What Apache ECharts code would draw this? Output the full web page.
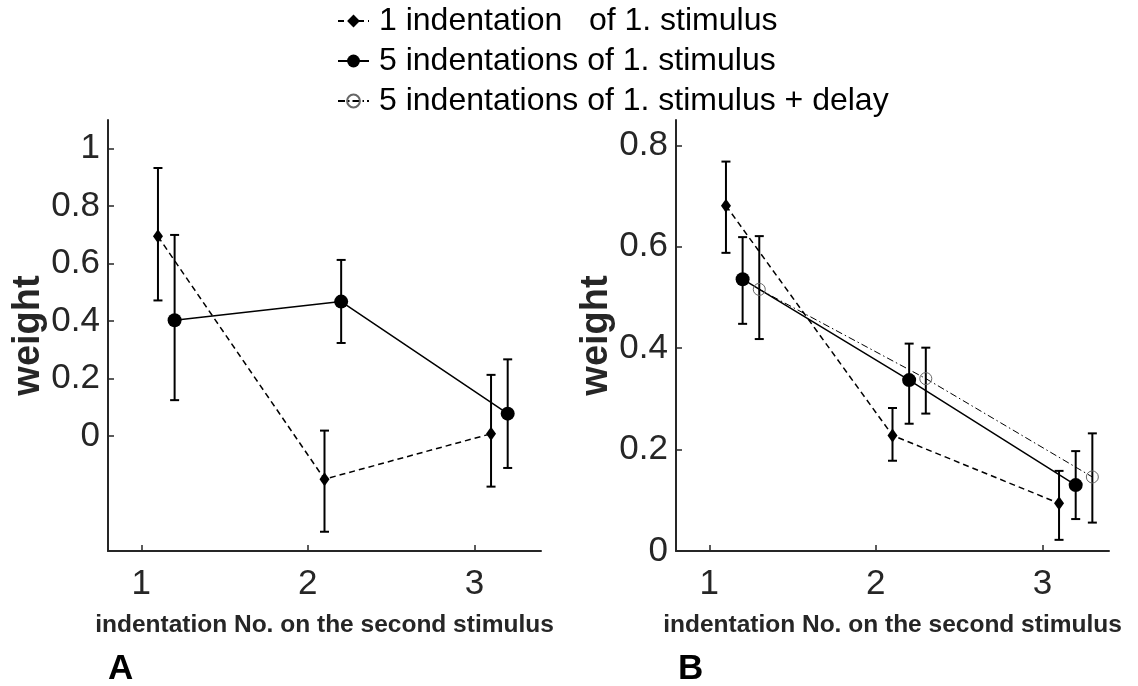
<!DOCTYPE html>
<html>
<head>
<meta charset="utf-8">
<script src="https://cdn.jsdelivr.net/npm/echarts@6/dist/echarts.min.js"></script>
<style>
html,body{margin:0;padding:0;background:#fff;}
#chart{width:1138px;height:686px;}
</style>
</head>
<body>
<div id="chart"></div>
<script>
// ---- data ----
const seriesNames = ['1 indentation   of 1. stimulus', '5 indentations of 1. stimulus', '5 indentations of 1. stimulus + delay'];
const xTicks = [1, 2, 3];
const yTicksA = [0, 0.2, 0.4, 0.6, 0.8, 1];
const yTicksB = [0, 0.2, 0.4, 0.6, 0.8];

const xOne = [1.1, 2.1, 3.1];
const xFive = [1.2, 2.2, 3.2];
const xDelay = [1.3, 2.3, 3.3];

// Panel A
const aOneMean = [0.695, -0.150, 0.008];
const aOneLow = [0.472, -0.333, -0.176];
const aOneHigh = [0.933, 0.019, 0.213];
const aFiveMean = [0.403, 0.468, 0.078];
const aFiveLow = [0.125, 0.324, -0.111];
const aFiveHigh = [0.700, 0.613, 0.267];

// Panel B
const bOneMean = [0.681, 0.228, 0.094];
const bOneLow = [0.588, 0.178, 0.022];
const bOneHigh = [0.768, 0.282, 0.158];
const bFiveMean = [0.536, 0.337, 0.130];
const bFiveLow = [0.448, 0.251, 0.063];
const bFiveHigh = [0.619, 0.409, 0.197];
const bDelayMean = [0.516, 0.340, 0.146];
const bDelayLow = [0.418, 0.271, 0.056];
const bDelayHigh = [0.621, 0.401, 0.232];

// ---- helpers ----
const FONT = '"Liberation Sans", Arial, Helvetica, sans-serif';
const AXC = '#262626';
function pts(xs, ys) { return xs.map((x, i) => [x, ys[i]]); }
function errs(xs, lo, hi) { return xs.map((x, i) => [x, lo[i], hi[i]]); }

function errRender(params, api) {
  const x = api.value(0), lo = api.value(1), hi = api.value(2);
  const p1 = api.coord([x, lo]);
  const p2 = api.coord([x, hi]);
  const c = 4.5;
  const st = { stroke: '#000', lineWidth: 2 };
  return {
    type: 'group',
    children: [
      { type: 'line', shape: { x1: p1[0], y1: p1[1], x2: p2[0], y2: p2[1] }, style: st },
      { type: 'line', shape: { x1: p1[0] - c, y1: p1[1], x2: p1[0] + c, y2: p1[1] }, style: st },
      { type: 'line', shape: { x1: p2[0] - c, y1: p2[1], x2: p2[0] + c, y2: p2[1] }, style: st }
    ]
  };
}

function errSeries(idx, data) {
  return {
    type: 'custom', xAxisIndex: idx, yAxisIndex: idx, renderItem: errRender,
    encode: { x: 0, y: [1, 2] }, data: data, silent: true, z: 2
  };
}

const lineOne = { color: '#000', width: 1.5, type: [6, 4] };
const lineFive = { color: '#000', width: 1.5, type: 'solid' };
const lineDelay = { color: '#000', width: 1, type: [7, 3, 1.5, 3] };

function oneSeries(idx, data) {
  return {
    name: seriesNames[0], type: 'line', xAxisIndex: idx, yAxisIndex: idx, data: data,
    symbol: 'diamond', symbolSize: [10, 14], itemStyle: { color: '#000' },
    lineStyle: lineOne, z: 3, animation: false
  };
}
function fiveSeries(idx, data) {
  return {
    name: seriesNames[1], type: 'line', xAxisIndex: idx, yAxisIndex: idx, data: data,
    symbol: 'circle', symbolSize: 14, itemStyle: { color: '#000' },
    lineStyle: lineFive, z: 3, animation: false
  };
}
function delaySeries(idx, data) {
  return {
    name: seriesNames[2], type: 'line', xAxisIndex: idx, yAxisIndex: idx, data: data,
    symbol: 'circle', symbolSize: 12, itemStyle: { color: 'rgba(255,255,255,0)', borderColor: '#666', borderWidth: 1 },
    lineStyle: lineDelay, z: 3, animation: false
  };
}

function xAxisCfg(idx) {
  return {
    type: 'value', gridIndex: idx, min: 0.8, max: 3.4,
    name: 'indentation No. on the second stimulus', nameLocation: 'middle', nameGap: 62,
    nameTextStyle: { fontFamily: FONT, fontWeight: 'bold', fontSize: 24.5, color: AXC },
    axisLine: { show: true, onZero: false, lineStyle: { color: AXC, width: 2 } },
    axisTick: { show: true, inside: true, length: 6, customValues: xTicks, lineStyle: { color: AXC, width: 1.5 } },
    axisLabel: { customValues: xTicks, margin: 16, fontFamily: FONT, fontSize: 35, color: AXC },
    splitLine: { show: false }
  };
}
function yAxisCfg(idx, min, max, ticks) {
  return {
    type: 'value', gridIndex: idx, min: min, max: max,
    name: 'weight', nameLocation: 'middle', nameGap: 52,
    nameTextStyle: { fontFamily: FONT, fontWeight: 'bold', fontSize: 38, color: AXC },
    axisLine: { show: true, onZero: false, lineStyle: { color: AXC, width: 2 } },
    axisTick: { show: true, inside: true, length: 6, customValues: ticks, lineStyle: { color: AXC, width: 1.5 } },
    axisLabel: { customValues: ticks, margin: 8, fontFamily: FONT, fontSize: 35, color: AXC,
      formatter: v => String(v) },
    splitLine: { show: false }
  };
}

const chart = echarts.init(document.getElementById('chart'));
chart.setOption({
  animation: false,
  backgroundColor: '#fff',
  title: [
    { text: 'A', left: 103, top: 647, textStyle: { fontFamily: FONT, fontWeight: 'bold', fontSize: 35, color: '#000' } },
    { text: 'B', left: 673, top: 647, textStyle: { fontFamily: FONT, fontWeight: 'bold', fontSize: 35, color: '#000' } }
  ],
  legend: {
    orient: 'vertical', left: 332, top: 0, itemWidth: 31, itemHeight: 16, itemGap: 8,
    data: seriesNames,
    textStyle: { fontFamily: FONT, fontSize: 32, color: '#000', padding: [0, 0, 0, 5] }
  },
  grid: [
    { left: 108, top: 120, width: 433, height: 431 },
    { left: 676, top: 120, width: 433, height: 431 }
  ],
  xAxis: [xAxisCfg(0), xAxisCfg(1)],
  yAxis: [yAxisCfg(0, -0.4, 1.1, yTicksA), yAxisCfg(1, 0, 0.85, yTicksB)],
  series: [
    errSeries(0, errs(xOne, aOneLow, aOneHigh)),
    errSeries(0, errs(xFive, aFiveLow, aFiveHigh)),
    oneSeries(0, pts(xOne, aOneMean)),
    fiveSeries(0, pts(xFive, aFiveMean)),
    errSeries(1, errs(xOne, bOneLow, bOneHigh)),
    errSeries(1, errs(xFive, bFiveLow, bFiveHigh)),
    errSeries(1, errs(xDelay, bDelayLow, bDelayHigh)),
    oneSeries(1, pts(xOne, bOneMean)),
    fiveSeries(1, pts(xFive, bFiveMean)),
    delaySeries(1, pts(xDelay, bDelayMean))
  ]
});
</script>
</body>
</html>
